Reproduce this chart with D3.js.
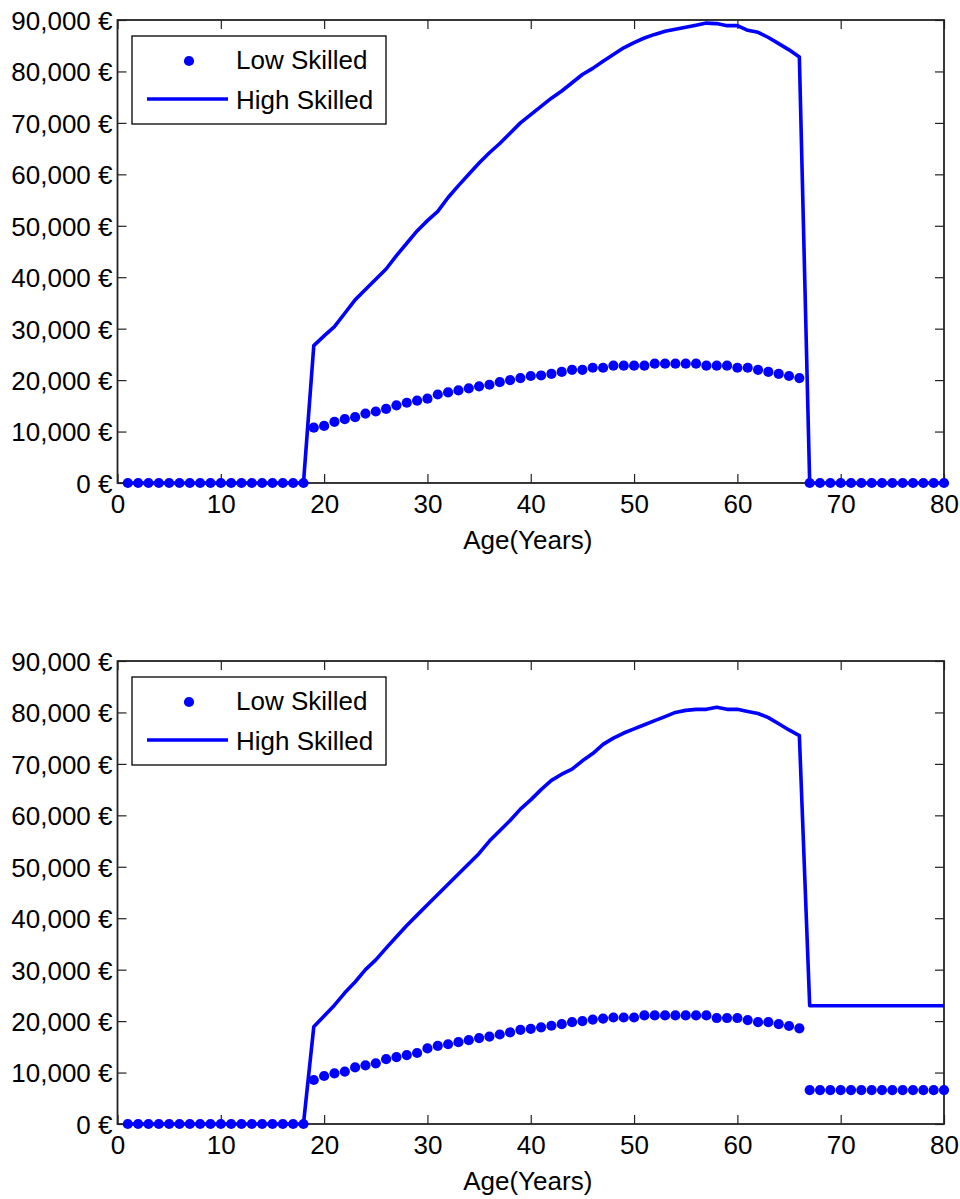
<!DOCTYPE html>
<html>
<head>
<meta charset="utf-8">
<script src="https://cdn.jsdelivr.net/npm/d3@7/dist/d3.min.js"></script>
<style>
  html, body { margin: 0; padding: 0; background: #fff; }
  svg { display: block; }
  text { font-family: "Liberation Sans", Arial, Helvetica, sans-serif; fill: #000; }
</style>
</head>
<body>
<svg id="chart" width="960" height="1199"></svg>
<script>
// Age in years (x axis)
const ages = d3.range(1, 81);

// Earnings profiles, first panel (euros)
const lowSkilledA = [
  0,0,0,0,0,0,0,0,0,0,0,0,0,0,0,0,0,0,
  10750,11100,11900,12400,12800,13500,13900,14400,15100,15600,
  16000,16400,17200,17600,18000,18400,18800,19100,19600,20000,
  20400,20800,20900,21200,21600,22000,22000,22400,22400,22800,
  22800,22800,22800,23200,23200,23200,23200,23200,22800,22800,
  22800,22400,22400,22000,21600,21200,20800,20400,
  0,0,0,0,0,0,0,0,0,0,0,0,0,0
];
const highSkilledA = [
  0,0,0,0,0,0,0,0,0,0,0,0,0,0,0,0,0,0,
  26700,28600,30400,33000,35600,37600,39600,41600,44200,46600,
  49000,51000,52800,55500,57800,60000,62200,64200,66000,68000,
  70000,71600,73200,74800,76200,77800,79400,80600,82000,83300,
  84600,85600,86500,87200,87800,88200,88600,89000,89400,89300,
  88900,88900,88000,87600,86600,85400,84200,82800,
  0,0,0,0,0,0,0,0,0,0,0,0,0,0
];

// Earnings profiles, second panel (euros)
const lowSkilledB = [
  0,0,0,0,0,0,0,0,0,0,0,0,0,0,0,0,0,0,
  8550,9330,9850,10200,11000,11400,11800,12600,13000,13400,
  13800,14700,15200,15500,15900,16300,16700,17000,17400,17800,
  18300,18500,18800,19100,19400,19800,20000,20300,20500,20700,
  20700,20700,21100,21100,21100,21100,21100,21100,21100,20600,
  20600,20600,20200,19800,19800,19400,19050,18600,
  6600,6600,6600,6600,6600,6600,6600,6600,6600,6600,6600,6600,6600,6600
];
const highSkilledB = [
  0,0,0,0,0,0,0,0,0,0,0,0,0,0,0,0,0,0,
  18900,21000,23100,25500,27600,30000,31900,34200,36400,38600,
  40600,42600,44600,46600,48600,50600,52600,55000,57000,59000,
  61200,63000,65000,66800,68000,69000,70600,72000,73800,75000,
  76000,76800,77600,78400,79200,80000,80400,80600,80600,81000,
  80600,80600,80200,79800,79000,77800,76600,75500,
  23000,23000,23000,23000,23000,23000,23000,23000,23000,23000,23000,23000,23000,23000
];

const xTicks = [0, 10, 20, 30, 40, 50, 60, 70, 80];
const yTicks = [0, 10000, 20000, 30000, 40000, 50000, 60000, 70000, 80000, 90000];
const seriesNames = ["Low Skilled", "High Skilled"];
const xLabel = "Age(Years)";

const blue = "#0000ff";
const fontSize = 26;
const tickLen = 9;
const dotR = 5.1;
const fmt = v => d3.format(",")(v) + " €";

const svg = d3.select("#chart");

function panel(top, bottom, low, high) {
  const x = d3.scaleLinear().domain([0, 80]).range([117.5, 944]);
  const y = d3.scaleLinear().domain([0, 90000]).range([bottom, top]);
  const g = svg.append("g");

  // bottom axis with labels, inward ticks
  const ax = g.append("g").attr("transform", `translate(0,${bottom})`)
    .call(d3.axisBottom(x).tickValues(xTicks).tickSizeInner(-tickLen).tickSizeOuter(0).tickPadding(0).tickFormat(d3.format("d")));
  ax.selectAll("text").attr("font-size", fontSize).attr("y", 30).attr("dy", 0);

  // top axis, ticks only
  g.append("g").attr("transform", `translate(0,${top})`)
    .call(d3.axisTop(x).tickValues(xTicks).tickSizeInner(-tickLen).tickSizeOuter(0).tickFormat(""));

  // left axis with labels
  const ay = g.append("g").attr("transform", `translate(${x(0)},0)`)
    .call(d3.axisLeft(y).tickValues(yTicks).tickSizeInner(-tickLen).tickSizeOuter(0).tickPadding(0).tickFormat(fmt));
  ay.selectAll("text").attr("font-size", fontSize).attr("x", -5).attr("dy", "0.36em");

  // right axis, ticks only
  g.append("g").attr("transform", `translate(${x(80)},0)`)
    .call(d3.axisRight(y).tickValues(yTicks).tickSizeInner(-tickLen).tickSizeOuter(0).tickFormat(""));

  g.selectAll(".domain").remove();
  g.selectAll(".tick line").attr("stroke", "#222").attr("stroke-width", 1.2);

  // axes box
  g.append("rect")
    .attr("x", x(0)).attr("y", top)
    .attr("width", x(80) - x(0)).attr("height", bottom - top)
    .attr("fill", "none").attr("stroke", "#222").attr("stroke-width", 1.8);

  // x axis title
  g.append("text")
    .attr("x", (x(0) + x(80)) / 2 - 3).attr("y", bottom + 66)
    .attr("text-anchor", "middle").attr("font-size", fontSize)
    .text(xLabel);

  // high skilled line
  const line = d3.line().x((d, i) => x(ages[i])).y(d => y(d));
  g.append("path").datum(high)
    .attr("d", line)
    .attr("fill", "none").attr("stroke", blue).attr("stroke-width", 3.6)
    .attr("stroke-linejoin", "round");

  // low skilled dots
  g.append("g").selectAll("circle").data(low).join("circle")
    .attr("cx", (d, i) => x(ages[i])).attr("cy", d => y(d))
    .attr("r", dotR).attr("fill", blue);

  // legend
  const lg = g.append("g").attr("transform", `translate(0,${top})`);
  lg.append("rect").attr("x", 132).attr("y", 16).attr("width", 254).attr("height", 88)
    .attr("fill", "#fff").attr("stroke", "#000").attr("stroke-width", 1.3);
  lg.append("circle").attr("cx", 189).attr("cy", 41).attr("r", dotR).attr("fill", blue);
  lg.append("line").attr("x1", 147).attr("x2", 228).attr("y1", 79).attr("y2", 79)
    .attr("stroke", blue).attr("stroke-width", 3.6);
  lg.append("text").attr("x", 236).attr("y", 48.5).attr("font-size", fontSize).text(seriesNames[0]);
  lg.append("text").attr("x", 236).attr("y", 88.5).attr("font-size", fontSize).text(seriesNames[1]);
}

panel(20, 483, lowSkilledA, highSkilledA);
panel(661, 1124, lowSkilledB, highSkilledB);
</script>
</body>
</html>
